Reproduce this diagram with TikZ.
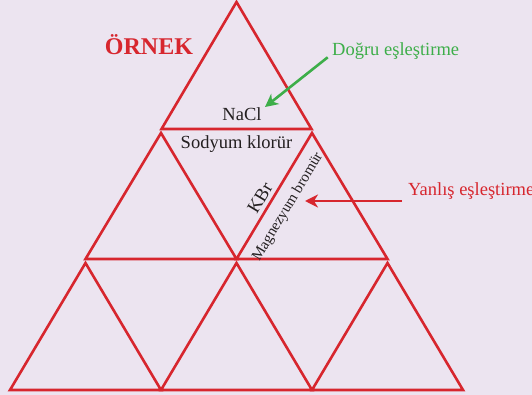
\documentclass[tikz,border=0pt]{standalone}
\usepackage{fontspec}
\setmainfont{Liberation Serif}
\usetikzlibrary{arrows.meta}
\definecolor{bgc}{HTML}{ECE4F0}
\definecolor{tred}{HTML}{D7262E}
\definecolor{tgreen}{HTML}{3DAE49}
\definecolor{tdark}{HTML}{231F20}
\tikzset{
  tri/.style={draw=tred, line width=2.6pt, line join=miter},
  lbl/.style={inner sep=0pt, text=tdark, font=\fontsize{18.5}{20}\selectfont},
  slbl/.style={inner sep=0pt, text=tdark, font=\fontsize{15}{16}\selectfont},
  callout/.style={inner sep=0pt, font=\fontsize{18.5}{20}\selectfont, anchor=west},
  pointer/.style={line width=2.6pt, -{Stealth[length=13pt,width=13pt,inset=4pt]}}
}
\begin{document}
\begin{tikzpicture}[x=1pt,y=-1pt]
\fill[bgc] (0,0) rectangle (532,395);
\useasboundingbox (0,0) rectangle (532,395);
% top triangle
\coordinate (t1) at (236.5,2);
\coordinate (t2) at (161.5,129);
\coordinate (t3) at (311.5,129);
\draw[tri] (t1) -- (t2) -- (t3) -- cycle;
% row 2
\coordinate (l1) at (161,133);
\coordinate (l2) at (85.5,259);
\coordinate (l3) at (236.5,259);
\draw[tri] (l1) -- (l2) -- (l3) -- cycle;
\coordinate (r1) at (312,133);
\coordinate (r2) at (236.5,259);
\coordinate (r3) at (387.5,259);
\draw[tri] (r1) -- (r2) -- (r3) -- cycle;
% row 3
\coordinate (a1) at (85.5,263);
\coordinate (a2) at (10,390);
\coordinate (a3) at (161,390);
\draw[tri] (a1) -- (a2) -- (a3) -- cycle;
\coordinate (b1) at (236.5,263);
\coordinate (b2) at (161,390);
\coordinate (b3) at (312,390);
\draw[tri] (b1) -- (b2) -- (b3) -- cycle;
\coordinate (c1) at (387.5,263);
\coordinate (c2) at (312,390);
\coordinate (c3) at (463,390);
\draw[tri] (c1) -- (c2) -- (c3) -- cycle;
% texts
\node[inner sep=0pt, text=tred, font=\fontsize{24}{26}\selectfont\bfseries, anchor=base] (ornek) at (149,55) {ÖRNEK};
\node[lbl, anchor=base] (nacl) at (242,120.5) {NaCl};
\node[lbl, anchor=base] (sod) at (236.5,149) {Sodyum klorür};
\node[lbl, rotate=59] (kbr) at (260,198) {KBr};
\node[slbl, rotate=59] (mag) at (288,207) {Magnezyum bromür};
\node[callout, text=tgreen, anchor=base west] (dogru) at (332,56) {Doğru eşleştirme};
\node[callout, text=tred, anchor=base west] (yanlis) at (408,196) {Yanlış eşleştirme};
\coordinate (gs) at (327.7,57.3);
\coordinate (gt) at (265,107);
\draw[pointer, draw=tgreen, fill=tgreen] (gs) -- (gt);
\coordinate (rs) at (402,201);
\coordinate (rt) at (305,201);
\draw[pointer, draw=tred, fill=tred] (rs) -- (rt);
\end{tikzpicture}
\end{document}
